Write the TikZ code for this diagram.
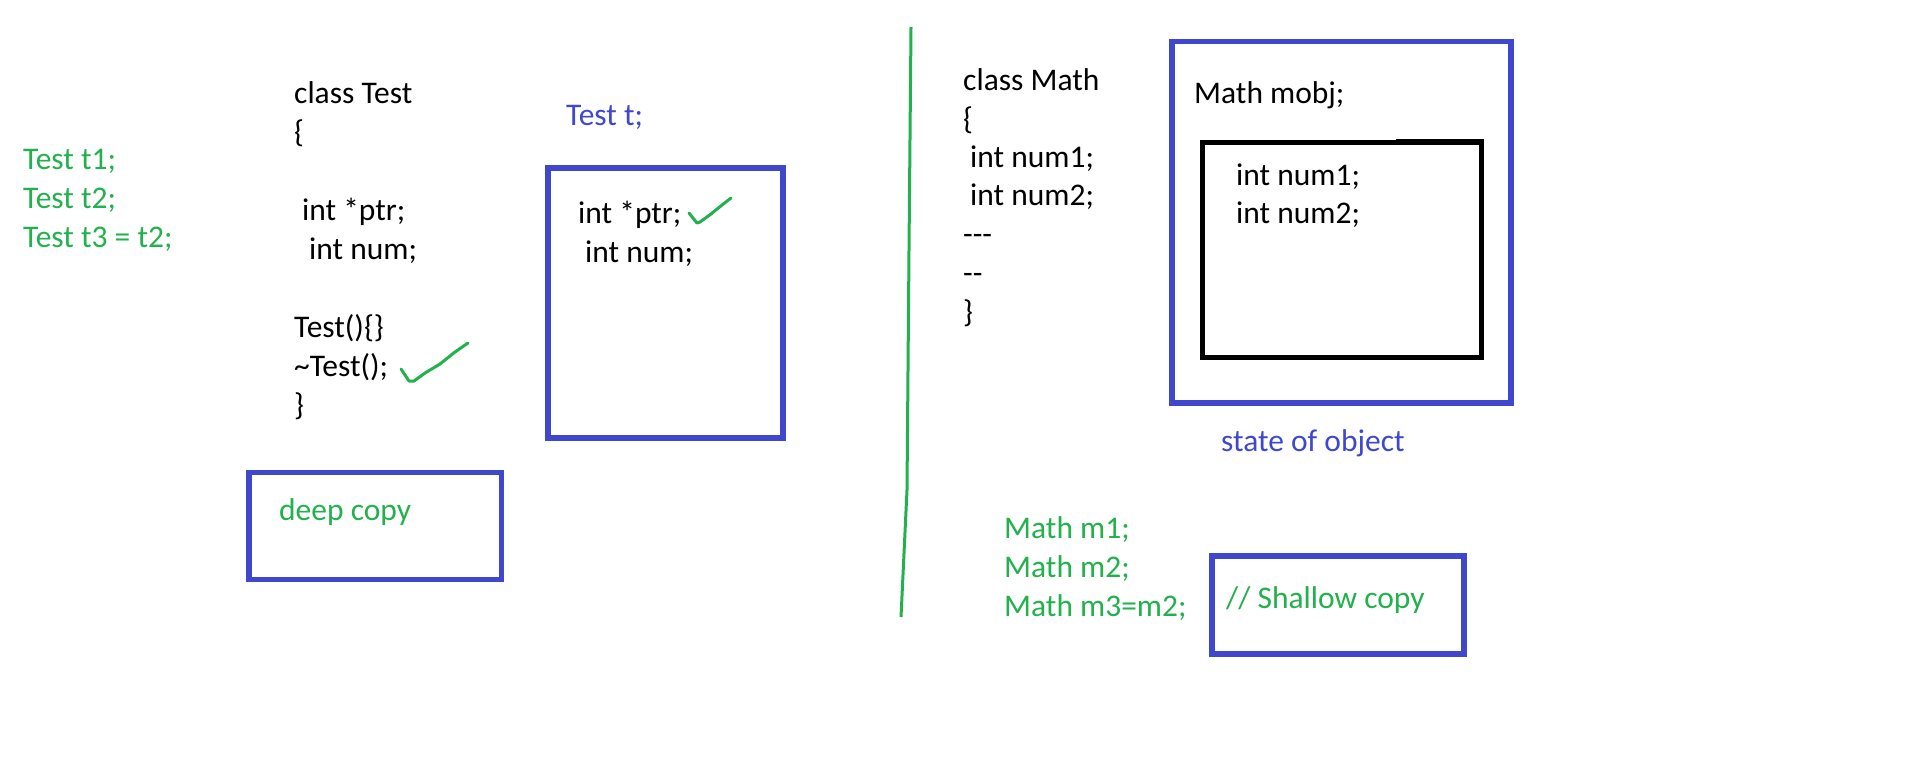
\documentclass[tikz,border=0pt]{standalone}
\usepackage{fontspec}
\setmainfont{Carlito}
\definecolor{pblue}{HTML}{3F48CC}
\definecolor{pgreen}{HTML}{22B14C}
\begin{document}
\begin{tikzpicture}[x=1pt,y=-1pt,
  txt/.style={anchor=base west, inner sep=0pt, font=\fontsize{31.5}{39}\selectfont},
  gtxt/.style={txt, text=pgreen},
  btxt/.style={txt, text=pblue},
  bbox/.style={draw=pblue, line width=5.5pt},
  kbox/.style={draw=black, line width=5pt},
  tick/.style={draw=pgreen, line width=3pt, line cap=round, line join=round}]
\useasboundingbox (0,0) rectangle (1914,763);
\fill[white] (0,0) rectangle (1914,763);

% left green declarations
\node[gtxt] (t1) at (23,169) {Test t1;};
\node[gtxt] (t2) at (23,208) {Test t2;};
\node[gtxt] (t3) at (23,247) {Test t3 = t2;};

% class Test
\node[txt] (ct1) at (294,103) {class Test};
\node[txt] (ct2) at (294,142) {\{};
\node[txt] (ct3) at (302,220) {int *ptr;};
\node[txt] (ct4) at (309,259) {int num;};
\node[txt] (ct5) at (294,337) {Test()\{\}};
\node[txt] (ct6) at (294,376) {\char"7E Test();};
\node[txt] (ct7) at (294,415) {\}};
\draw[tick] (401,369) -- (409,381) -- (414,381) -- (425,373) -- (440,364) -- (455,352) -- (468,343);

% Test t box
\node[btxt] (tt) at (566,125) {Test t;};
\draw[bbox] (548,168) rectangle (783,438);
\node[txt] (b1) at (578,223) {int *ptr;};
\node[txt] (b2) at (585,262) {int num;};
\draw[tick] (689,213) -- (697,223) -- (700,222) -- (711,214) -- (722,205) -- (731,198);

% deep copy box
\draw[bbox] (249,472.5) rectangle (501.5,579.5);
\node[gtxt] (dc) at (279,520) {deep copy};

% divider
\draw[pgreen, line width=3pt] (911,27) -- (909,250) -- (907,490) -- (901,617);

% class Math
\node[txt] (cm1) at (963,90) {class Math};
\node[txt] (cm2) at (963,129) {\{};
\node[txt] (cm3) at (970,167) {int num1;};
\node[txt] (cm4) at (970,205) {int num2;};
\node[txt] (cm5) at (963,244) {-{}-{}-};
\node[txt] (cm6) at (963,283) {-{}-};
\node[txt] (cm7) at (963,322) {\}};

% Math mobj box
\draw[bbox] (1172,41.5) rectangle (1511,403);
\node[txt] (mo) at (1194,103) {Math mobj;};
\draw[kbox] (1202,142) rectangle (1481.5,357.5);
\fill[black] (1396,139) rectangle (1484,142);
\node[txt] (n1) at (1236,185) {int num1;};
\node[txt] (n2) at (1236,223) {int num2;};
\node[btxt] (so) at (1221,451) {state of object};

% Math m1..m3
\node[gtxt] (m1) at (1004,538) {Math m1;};
\node[gtxt] (m2) at (1004,577) {Math m2;};
\node[gtxt] (m3) at (1004,616) {Math m3=m2;};
\draw[bbox] (1212,556) rectangle (1464,654);
\node[gtxt] (sc) at (1226,608) {// Shallow copy};
\end{tikzpicture}
\end{document}
